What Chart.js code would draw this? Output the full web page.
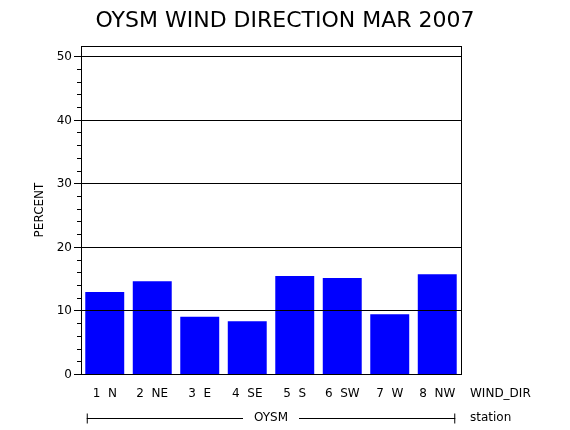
<!DOCTYPE html>
<html><head><script src="https://cdn.jsdelivr.net/npm/chart.js@4"></script>
<style>body{margin:0;background:#fff}</style></head><body>
<canvas id="c" width="570" height="430" style="width:570px;height:430px"></canvas>
<script>
const categories=["1 N","2 NE","3 E","4 SE","5 S","6 SW","7 W","8 NW"];
const percent=[12.9,14.6,9.0,8.3,15.4,15.1,9.4,15.7];
const yTicks=[0,10,20,30,40,50];
const title="OYSM WIND DIRECTION MAR 2007";
const F='"DejaVu Sans", sans-serif';
const deco={id:'deco',afterDatasetsDraw(ch){
 const c=ch.ctx,a=ch.chartArea,y=ch.scales.y,x=ch.scales.x;
 c.save();c.strokeStyle='#000';c.fillStyle='#000';c.lineWidth=1;
 c.strokeRect(a.left+0.5,a.top+0.5,a.right-a.left,a.bottom-a.top);
 c.font='12px '+F;c.textAlign='right';c.textBaseline='middle';
 for(let v=0;v<=50;v+=2){const p=Math.round(y.getPixelForValue(v))+0.5;const major=v%10===0;
  c.beginPath();c.moveTo(a.left-(major?7:4),p);c.lineTo(a.left,p);c.stroke();
  if(major){c.fillText(String(v),a.left-9,p);
   c.beginPath();c.moveTo(a.left,p);c.lineTo(a.right,p);c.stroke();}}
 c.save();c.translate(40,(a.top+a.bottom)/2);c.rotate(-Math.PI/2);c.textAlign='center';c.fillText('PERCENT',0,0);c.restore();
 c.textAlign='center';c.textBaseline='top';
 categories.forEach((t,i)=>{c.fillText(t.replace(' ','  '),x.getPixelForValue(i),388);});
 c.textAlign='left';c.fillText('WIND_DIR',470,388);c.fillText('station',470,412);
 const l=x.getPixelForValue(0)-18,r=x.getPixelForValue(7)+18,yy=418.5;
 c.textAlign='center';c.fillText('OYSM',(l+r)/2,412);
 c.beginPath();c.moveTo(l,yy);c.lineTo((l+r)/2-28,yy);c.moveTo((l+r)/2+28,yy);c.lineTo(r,yy);
 c.moveTo(l+0.5,yy-5);c.lineTo(l+0.5,yy+5);c.moveTo(r-0.5,yy-5);c.lineTo(r-0.5,yy+5);c.stroke();
 c.font='22px '+F;c.fillText(title,285,10);
 c.restore();}};
new Chart(document.getElementById('c'),{type:'bar',
 data:{labels:categories,datasets:[{data:percent,backgroundColor:'#0000ff',barPercentage:0.82,categoryPercentage:1}]},
 options:{responsive:false,animation:false,events:[],layout:{padding:{left:81,right:109,top:46,bottom:56}},
  plugins:{legend:{display:false},tooltip:{enabled:false},title:{display:false}},
  scales:{x:{display:false},y:{display:false,min:0,max:51.6}}},
 plugins:[deco]});
</script></body></html>
